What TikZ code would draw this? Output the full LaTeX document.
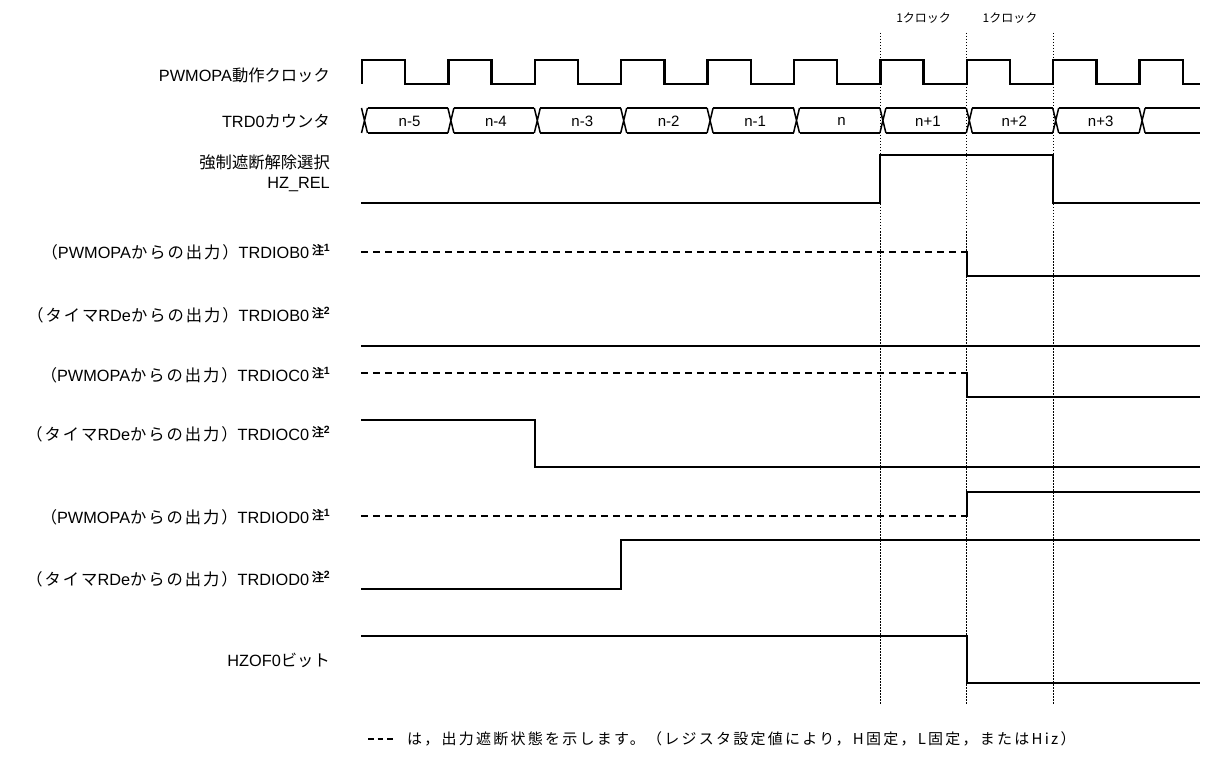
\documentclass[tikz,border=0pt]{standalone}
\usepackage{fontspec}
\setmainfont{Liberation Sans}
\newfontfamily\jpf{Noto Sans CJK JP}[AutoFakeBold=2]
\newfontfamily\jpl{Noto Sans CJK JP}[LetterSpace=12]
\newfontfamily\jpleg{Noto Sans CJK JP}[LetterSpace=15]
\newcommand{\chu}[1]{\,\raisebox{4pt}{\fontsize{12}{12}\selectfont\jpf\bfseries 注}\raisebox{7pt}{\fontsize{10.5}{10.5}\selectfont\bfseries #1}}
\begin{document}
\begin{tikzpicture}[x=1pt,y=-1pt,
  sig/.style={line width=2pt},
  hiz/.style={line width=2pt, dash pattern=on 7pt off 5pt},
  clk/.style={line width=2.5pt},
  cnt/.style={line width=1.5pt},
  guide/.style={line width=1pt, dash pattern=on 1.5pt off 1.5pt},
  lbl/.style={anchor=east, font=\fontsize{16.3}{20}\selectfont, inner sep=0pt, align=right},
  cntlbl/.style={font=\fontsize{15}{18}\selectfont, inner sep=0pt},
  note/.style={font=\fontsize{12}{14}\selectfont\jpf, inner sep=0pt}]
\useasboundingbox (0,0) rectangle (1220,767);

% guides
\foreach \k/\n in {6/ga,7/gb,8/gc}{
  \coordinate (\n t) at (362+86.4*\k,33);
  \coordinate (\n b) at (362+86.4*\k,705);
  \draw[guide] (\n t) -- (\n b);
}
\node[note] (c1) at (923.6,18) {1クロック};
\node[note] (c2) at (1010,18) {1クロック};

% labels
\node[lbl] (lclk) at (330,75) {PWMOPA{\jpf 動作クロック}};
\node[lbl] (lcnt) at (330,121) {TRD0{\jpf カウンタ}};
\node[lbl] (lhz) at (330,173) {{\jpf 強制遮断解除選択}\\HZ\_REL};
\node[lbl] (lb1) at (330,252) {{\jpl （}PWMOPA{\jpl からの出力）}TRDIOB0\chu{1}};
\node[lbl] (lb2) at (330,315) {{\jpl （タイマ}RDe{\jpl からの出力）}TRDIOB0\chu{2}};
\node[lbl] (lc1) at (330,375) {{\jpl （}PWMOPA{\jpl からの出力）}TRDIOC0\chu{1}};
\node[lbl] (lc2) at (330,434) {{\jpl （タイマ}RDe{\jpl からの出力）}TRDIOC0\chu{2}};
\node[lbl] (ld1) at (330,517) {{\jpl （}PWMOPA{\jpl からの出力）}TRDIOD0\chu{1}};
\node[lbl] (ld2) at (330,579) {{\jpl （タイマ}RDe{\jpl からの出力）}TRDIOD0\chu{2}};
\node[lbl] (lhzof) at (330,660) {HZOF0{\jpf ビット}};

% clock
\draw[clk] (362,84) \foreach \k in {0,...,8}{ -- ++(0,-24) -- ++(43.2,0) -- ++(0,24) -- ++(43.2,0)}
  -- ++(0,-24) -- ++(43.2,0) -- ++(0,24) -- (1200,84);

% counter
\foreach \k in {0,...,9}{
  \pgfmathsetmacro{\c}{364.5+86.4*\k}
  \draw[cnt] (\c-3,108) -- (\c+3,133) (\c-3,133) -- (\c+3,108);
}
\foreach \k in {0,...,8}{
  \pgfmathsetmacro{\c}{364.5+86.4*\k}
  \draw[cnt] (\c+3,108) -- (\c+83.4,108) (\c+3,133) -- (\c+83.4,133);
}
\draw[cnt] (1145.1,108) -- (1200,108) (1145.1,133) -- (1200,133);
\foreach \k/\t in {0/n-5,1/n-4,2/n-3,3/n-2,4/n-1,5/n,6/n+1,7/n+2,8/n+3}{
  \node[cntlbl] (v\k) at (364.5+86.4*\k+45,121) {\t};
}

% HZ_REL
\draw[sig] (361,203) -- (880.4,203) -- (880.4,155) -- (1053.2,155) -- (1053.2,203) -- (1200,203);
% TRDIOB0 PWMOPA
\draw[hiz] (361,252) -- (966.8,252);
\draw[sig] (966.8,251) -- (966.8,276) -- (1200,276);
% TRDIOB0 timer
\draw[sig] (361,346) -- (1200,346);
% TRDIOC0 PWMOPA
\draw[hiz] (361,373) -- (966.8,373);
\draw[sig] (966.8,372) -- (966.8,397) -- (1200,397);
% TRDIOC0 timer
\draw[sig] (361,420) -- (534.8,420) -- (534.8,467) -- (1200,467);
% TRDIOD0 PWMOPA
\draw[hiz] (361,516) -- (966.8,516);
\draw[sig] (966.8,517) -- (966.8,492) -- (1200,492);
% TRDIOD0 timer
\draw[sig] (361,589) -- (621.2,589) -- (621.2,540) -- (1200,540);
% HZOF0
\draw[sig] (361,636) -- (966.8,636) -- (966.8,683) -- (1200,683);

% legend
\coordinate (ls) at (368,739);
\coordinate (le) at (393,739);
\draw[line width=2.5pt, dash pattern=on 5.5pt off 4pt] (ls) -- (le);
\node[anchor=west, inner sep=0pt, font=\fontsize{15}{18}\selectfont\jpleg] (leg) at (407,739) {は，出力遮断状態を示します。（レジスタ設定値により，H固定，L固定，またはHiz）};
\end{tikzpicture}
\end{document}
